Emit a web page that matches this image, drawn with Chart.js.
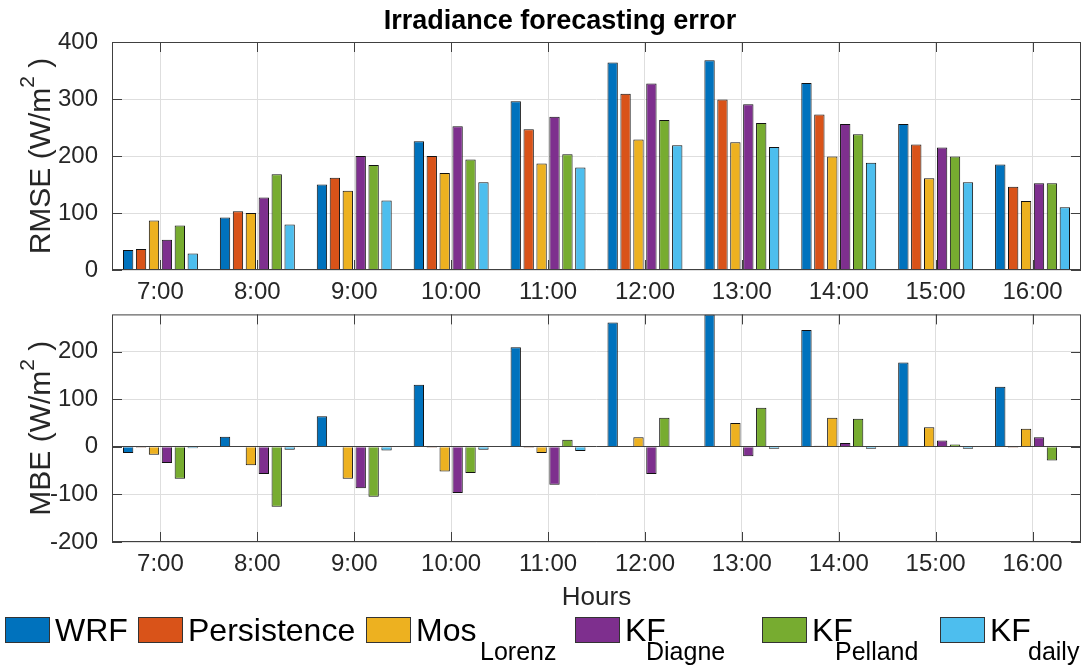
<!DOCTYPE html>
<html>
<head>
<meta charset="utf-8">
<script src="https://cdn.jsdelivr.net/npm/chart.js@4.4.1/dist/chart.umd.min.js"></script>
<style>
  body { margin: 0; background: #fff; }
  #wrap { position: relative; width: 1082px; height: 666px; }
  #rmseChart { position: absolute; left: 0; top: 0; }
  #mbeChart { position: absolute; left: 0; top: 286px; }
</style>
</head>
<body>
<div id="wrap">
  <canvas id="rmseChart" width="1082" height="312"></canvas>
  <canvas id="mbeChart" width="1082" height="380"></canvas>
</div>
<script>
// forecast hours on the x axis
const hours = ["7:00", "8:00", "9:00", "10:00", "11:00", "12:00", "13:00", "14:00", "15:00", "16:00"];

// legend names: main text + subscript
const seriesNames = ["WRF", "Persistence", "Mos", "KF", "KF", "KF"];
const seriesSubs = ["", "", "Lorenz", "Diagne", "Pelland", "daily"];
const seriesColors = ["#0072BD", "#D95319", "#EDB120", "#7E2F8E", "#77AC30", "#4DBEEE"];

// RMSE (W/m^2)
const rmseWrf = [35, 92, 150, 226, 296, 364, 368, 328, 256, 185];
const rmsePersistence = [37, 103, 162, 200, 247, 309, 299, 273, 220, 146];
const rmseMos = [87, 100, 139, 170, 187, 229, 224, 199, 161, 121];
const rmseDiagne = [53, 127, 200, 252, 269, 327, 291, 256, 215, 152];
const rmsePelland = [78, 168, 184, 194, 203, 263, 258, 238, 199, 152];
const rmseDaily = [29, 80, 122, 154, 180, 219, 216, 188, 154, 110];

// MBE (W/m^2)
const mbeWrf = [-13, 21, 64, 130, 209, 261, 278, 245, 177, 126];
const mbePersistence = [-2, -1, -1, -2, -2, -1, -1, 2, -1, -2];
const mbeMos = [-17, -39, -67, -52, -13, 20, 50, 61, 41, 38];
const mbeDiagne = [-34, -57, -87, -97, -80, -57, -20, 8, 13, 20];
const mbePelland = [-67, -126, -105, -55, 15, 61, 82, 59, 5, -29];
const mbeDaily = [-3, -6, -8, -6, -9, -1, -4, -4, -4, -1];

const rmseTicks = [0, 100, 200, 300, 400];
const mbeTicks = [-200, -100, 0, 100, 200];

const FONT = '"Liberation Sans", Arial, Helvetica, sans-serif';
const TEXT = "#262626";
const GRID = "#dedede";

// legend row layout: left edge of each swatch, and where its subscript starts
const legendBoxX = [5, 138, 366, 575, 762, 940];
const legendSubX = [0, 0, 480, 646, 835, 1028];

Chart.defaults.font.family = FONT;
Chart.defaults.color = TEXT;

function makeDatasets(series) {
  return series.map((data, i) => ({
    label: seriesNames[i] + seriesSubs[i],
    data,
    backgroundColor: seriesColors[i],
    borderColor: "#111",
    borderWidth: 1,
    categoryPercentage: 0.8,
    barPercentage: 0.8,
  }));
}

// box around the axes with inward tick marks on all four sides
const framePlugin = {
  id: "frame",
  afterDatasetsDraw(chart) {
    const { ctx, chartArea: a, scales } = chart;
    ctx.save();
    ctx.strokeStyle = "#404040";
    ctx.lineWidth = 1;
    ctx.beginPath();
    scales.x.ticks.forEach((t, i) => {
      const px = Math.round(scales.x.getPixelForTick(i)) + 0.5;
      ctx.moveTo(px, a.bottom);
      ctx.lineTo(px, a.bottom - 10);
      ctx.moveTo(px, a.top);
      ctx.lineTo(px, a.top + 10);
    });
    scales.y.ticks.forEach((t) => {
      const py = Math.round(scales.y.getPixelForValue(t.value)) + 0.5;
      ctx.moveTo(a.left, py);
      ctx.lineTo(a.left + 10, py);
      ctx.moveTo(a.right, py);
      ctx.lineTo(a.right - 10, py);
    });
    ctx.stroke();
    ctx.strokeRect(a.left + 0.5, a.top + 0.5, a.width - 1, a.height - 1);
    ctx.restore();
  },
};

// rotated y axis title with a superscript, e.g. RMSE (W/m^2 )
function yTitlePlugin(main, sup, tail) {
  return {
    id: "yTitle",
    afterDraw(chart) {
      const { ctx, chartArea: a } = chart;
      const big = "30px " + FONT;
      const small = "21px " + FONT;
      ctx.save();
      ctx.font = big;
      const w1 = ctx.measureText(main).width;
      const w3 = ctx.measureText(tail).width;
      ctx.font = small;
      const w2 = ctx.measureText(sup).width;
      const total = w1 + w2 + w3;
      ctx.translate(50, (a.top + a.bottom) / 2);
      ctx.rotate(-Math.PI / 2);
      ctx.fillStyle = TEXT;
      ctx.textBaseline = "alphabetic";
      ctx.textAlign = "left";
      let x = -total / 2;
      ctx.font = big;
      ctx.fillText(main, x, 0);
      x += w1;
      ctx.font = small;
      ctx.fillText(sup, x, -16);
      x += w2;
      ctx.font = big;
      ctx.fillText(tail, x, 0);
      ctx.restore();
    },
  };
}

const titlePlugin = {
  id: "chartTitle",
  afterDraw(chart) {
    const { ctx } = chart;
    ctx.save();
    ctx.font = "bold 27px " + FONT;
    ctx.fillStyle = "#000";
    ctx.textAlign = "center";
    ctx.textBaseline = "alphabetic";
    ctx.fillText("Irradiance forecasting error", 560, 29);
    ctx.restore();
  },
};

// x axis title and the legend with subscripted names, below the MBE axes
const bottomTextPlugin = {
  id: "bottomText",
  afterDraw(chart) {
    const { ctx, chartArea: a } = chart;
    ctx.save();
    ctx.fillStyle = TEXT;
    ctx.font = "26px " + FONT;
    ctx.textAlign = "center";
    ctx.textBaseline = "alphabetic";
    ctx.fillText("Hours", (a.left + a.right) / 2, a.bottom + 63);

    const boxTop = a.bottom + 75, boxW = 45, boxH = 26;
    ctx.textAlign = "left";
    seriesNames.forEach((name, i) => {
      const x = legendBoxX[i];
      ctx.fillStyle = seriesColors[i];
      ctx.fillRect(x, boxTop, boxW, boxH);
      ctx.strokeStyle = "#333";
      ctx.lineWidth = 1;
      ctx.strokeRect(x + 0.5, boxTop + 0.5, boxW - 1, boxH - 1);
      ctx.fillStyle = "#000";
      ctx.font = "32px " + FONT;
      ctx.fillText(name, x + boxW + 5, boxTop + 24);
      if (seriesSubs[i]) {
        ctx.font = "25px " + FONT;
        ctx.fillText(seriesSubs[i], legendSubX[i], boxTop + 43);
      }
    });
    ctx.restore();
  },
};

function axisOptions(yMin, yMax, yTickValues, xHeight, zeroDark) {
  return {
    x: {
      type: "category",
      offset: true,
      grid: { offset: false, color: GRID, drawTicks: false },
      border: { display: false },
      ticks: { font: { size: 24 }, color: TEXT, padding: 8, maxRotation: 0, autoSkip: false },
      afterFit: (axis) => { axis.height = xHeight; },
    },
    y: {
      min: yMin,
      max: yMax,
      grid: {
        drawTicks: false,
        color: (c) => (zeroDark && c.tick && c.tick.value === 0 ? "#404040" : GRID),
      },
      border: { display: false },
      ticks: { font: { size: 24 }, color: TEXT, padding: 14, stepSize: 100 },
      afterBuildTicks: (axis) => {
        axis.ticks = yTickValues.map((v) => ({ value: v }));
      },
      afterFit: (axis) => { axis.width = 112; },
    },
  };
}

const baseOptions = {
  responsive: false,
  animation: false,
  events: [],
};

new Chart(document.getElementById("rmseChart"), {
  type: "bar",
  data: {
    labels: hours,
    datasets: makeDatasets([rmseWrf, rmsePersistence, rmseMos, rmseDiagne, rmsePelland, rmseDaily]),
  },
  options: {
    ...baseOptions,
    layout: { padding: { top: 42, left: 0, right: 1, bottom: 0 } },
    plugins: { legend: { display: false }, tooltip: { enabled: false } },
    scales: axisOptions(0, 400, rmseTicks, 42, false),
  },
  plugins: [framePlugin, yTitlePlugin("RMSE (W/m", "2", " )"), titlePlugin],
});

new Chart(document.getElementById("mbeChart"), {
  type: "bar",
  data: {
    labels: hours,
    datasets: makeDatasets([mbeWrf, mbePersistence, mbeMos, mbeDiagne, mbePelland, mbeDaily]),
  },
  options: {
    ...baseOptions,
    layout: { padding: { top: 0, left: 0, right: 1, bottom: 0 } },
    plugins: { legend: { display: false }, tooltip: { enabled: false } },
    scales: axisOptions(-200, 278, mbeTicks, 124, true),
  },
  plugins: [framePlugin, yTitlePlugin("MBE (W/m", "2", " )"), bottomTextPlugin],
});
</script>
</body>
</html>
